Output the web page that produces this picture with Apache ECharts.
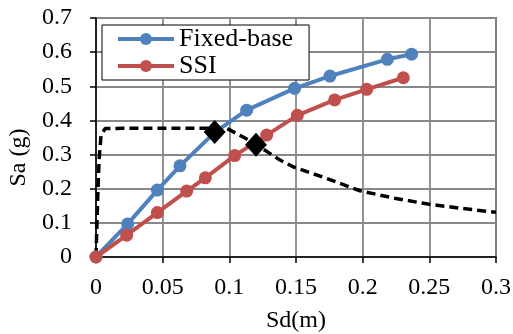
<!DOCTYPE html>
<html>
<head>
<meta charset="utf-8">
<script src="https://cdn.jsdelivr.net/npm/echarts@6/dist/echarts.min.js"></script>
<style>html,body{margin:0;padding:0;background:#fff}#c{width:513px;height:334px}</style>
</head>
<body>
<div id="c"></div>
<script>
// capacity curves: [Sd (m), Sa (g)]
const fixedBase=[[0,0],[0.0238,0.097],[0.046,0.196],[0.063,0.267],[0.089,0.365],[0.113,0.430],[0.149,0.494],[0.1755,0.530],[0.2185,0.579],[0.2367,0.594]];
const ssi=[[0,0],[0.023,0.064],[0.046,0.130],[0.068,0.193],[0.082,0.232],[0.104,0.297],[0.128,0.357],[0.151,0.415],[0.179,0.460],[0.203,0.491],[0.2305,0.525]];
// demand spectrum (dashed)
const demand=[[0,0],[0.0013,0.176],[0.0023,0.284],[0.0038,0.357],[0.0068,0.376],[0.02,0.377],[0.098,0.377],[0.11,0.352],[0.12,0.330],[0.138,0.284],[0.148,0.264],[0.173,0.230],[0.198,0.194],[0.224,0.172],[0.249,0.155],[0.275,0.142],[0.3,0.131]];
// performance points
const perfPts=[[0.089,0.366],[0.12,0.329]];

const font='"Liberation Serif","Times New Roman",serif';
const blue='#4F81BD', red='#C0504D', gridC='#888888';

const chart=echarts.init(document.getElementById('c'));
chart.setOption({
  animation:false,
  backgroundColor:'#fff',
  textStyle:{fontFamily:font,color:'#000'},
  grid:{left:96,right:17,top:18,bottom:77,outerBoundsMode:'none',containLabel:false,
    show:true,borderColor:'#000',borderWidth:1.5,backgroundColor:'transparent'},
  legend:{
    data:['Fixed-base','SSI'],orient:'vertical',left:102,top:25,
    backgroundColor:'#fff',borderColor:'#000',borderWidth:1,padding:[1,16,1,14],itemGap:1,
    itemWidth:56,itemHeight:15,lineStyle:{width:4},
    textStyle:{fontFamily:font,fontSize:26,color:'#000'}
  },
  xAxis:{
    type:'value',min:0,max:0.3,interval:0.05,name:'Sd(m)',nameLocation:'middle',nameGap:52,
    nameTextStyle:{fontFamily:font,fontSize:24,color:'#000'},
    axisLine:{onZero:false,lineStyle:{color:'#000',width:1.5}},
    axisTick:{show:true,length:6,lineStyle:{color:'#000',width:1.5}},
    axisLabel:{fontFamily:font,fontSize:24,color:'#000',margin:19},
    splitLine:{show:true,lineStyle:{color:gridC,width:1.8}}
  },
  yAxis:{
    type:'value',min:0,max:0.7,interval:0.1,name:'Sa (g)',nameLocation:'middle',nameGap:62,
    nameTextStyle:{fontFamily:font,fontSize:24,color:'#000',padding:[0,40,0,0]},
    axisLine:{onZero:false,lineStyle:{color:'#000',width:1.5}},
    axisTick:{show:true,length:6,lineStyle:{color:'#000',width:1.5}},
    axisLabel:{fontFamily:font,fontSize:24,color:'#000',margin:24},
    splitLine:{show:true,lineStyle:{color:gridC,width:1.8}}
  },
  series:[
    {name:'Demand',type:'line',data:demand,symbol:'none',smooth:false,
     lineStyle:{color:'#000',width:3.5,type:[9,5]},z:3},
    {name:'Fixed-base',type:'line',data:fixedBase,symbol:'circle',symbolSize:13,
     lineStyle:{color:blue,width:4},itemStyle:{color:blue},z:4},
    {name:'SSI',type:'line',data:ssi,symbol:'circle',symbolSize:13,
     lineStyle:{color:red,width:4},itemStyle:{color:red},z:4},
    {name:'Performance',type:'scatter',data:perfPts,symbol:'diamond',symbolSize:[22,24],
     itemStyle:{color:'#000',borderWidth:0,opacity:1},z:6}
  ]
});
</script>
</body>
</html>
